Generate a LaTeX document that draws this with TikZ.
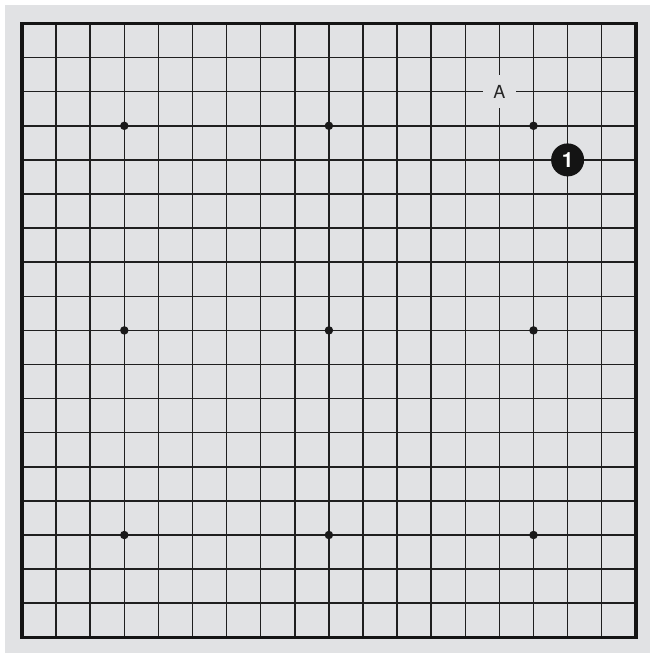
\documentclass[tikz,border=0pt]{standalone}
\usepackage{fontspec}
\setmainfont{TeX Gyre Heros}
\begin{document}
\begin{tikzpicture}[x=1pt,y=-1pt,
  gridline/.style={line width=1.5pt,draw=black!88},
  boardedge/.style={line width=3.6pt,draw=black!92},
  starpt/.style={circle,fill=black!90,inner sep=0pt,minimum size=8.5pt},
  blackstone/.style={circle,fill=black!92,inner sep=0pt,minimum size=33pt,text=white,font=\bfseries\fontsize{21}{21}\selectfont},
  marklabel/.style={fill=boardbg,inner sep=0pt,minimum size=33pt,font=\fontsize{18}{18}\selectfont,text=black!85}]
\definecolor{boardbg}{HTML}{E1E2E4}
\useasboundingbox (0,0) rectangle (650,653);
\fill[white] (0,0) rectangle (650,653);
\fill[boardbg] (5,5) rectangle (650,653);
\def\ox{22}\def\oy{23.5}\def\sp{34.1}
\foreach \i in {1,...,17}{
  \draw[gridline] ({\ox+\i*\sp},\oy) -- ({\ox+\i*\sp},{\oy+18*\sp});
  \draw[gridline] (\ox,{\oy+\i*\sp}) -- ({\ox+18*\sp},{\oy+\i*\sp});
}
\draw[boardedge] (\ox,\oy) rectangle ({\ox+18*\sp},{\oy+18*\sp});
\foreach \c in {3,9,15}{
  \foreach \r in {3,9,15}{
    \node[starpt] (star-\c-\r) at ({\ox+\c*\sp},{\oy+\r*\sp}) {};
  }
}
\node[marklabel] (markA) at ({\ox+14*\sp},{\oy+2*\sp}) {A};
\node[blackstone] (stone1) at ({\ox+16*\sp},{\oy+4*\sp}) {1};
\end{tikzpicture}
\end{document}
